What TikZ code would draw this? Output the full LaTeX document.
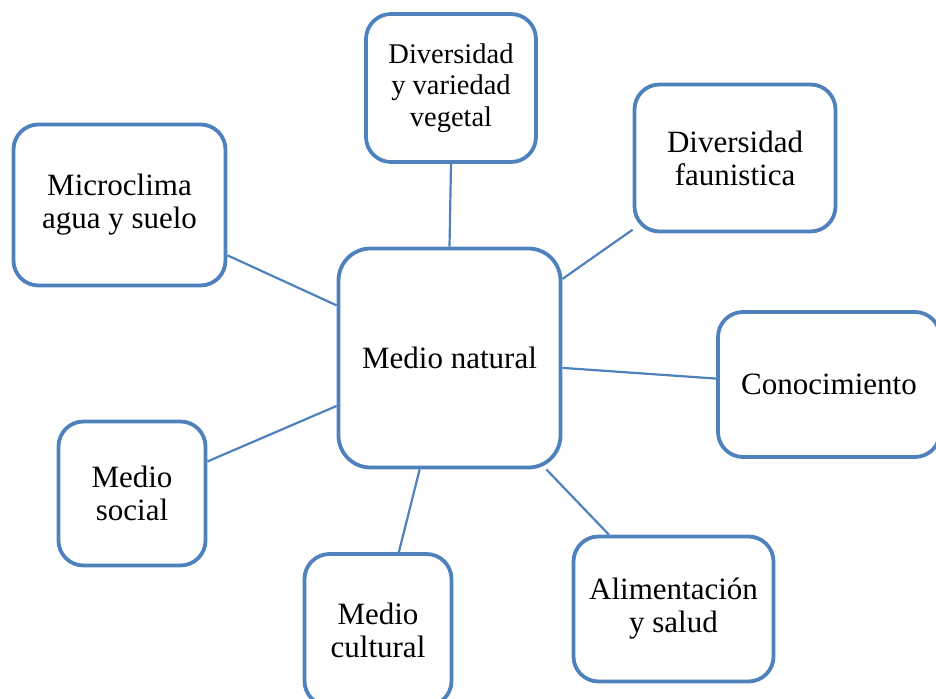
\documentclass[tikz,border=0pt]{standalone}
\usepackage{fontspec}
\setmainfont{Liberation Serif}
\usetikzlibrary{calc}
\definecolor{boxblue}{RGB}{79,129,189}
\begin{document}
\begin{tikzpicture}[x=1pt, y=-1pt,
  idea/.style={draw=boxblue, line width=3.8pt, rounded corners=25pt, fill=white, align=center, inner sep=0pt, font=\fontsize{31}{33}\selectfont},
  link/.style={draw=boxblue, line width=2.2pt}]
\useasboundingbox (0,0) rectangle (936,698);
\node[idea, minimum width=222, minimum height=219, rounded corners=32pt] (natural) at (449.5,358) {Medio natural};
\node[idea, minimum width=170, minimum height=148, font=\fontsize{28.5}{31.5}\selectfont] (vegetal) at (451,88) {Diversidad\\y variedad\\vegetal};
\node[idea, minimum width=201, minimum height=147] (fauna) at (735,158) {Diversidad\\faunistica};
\node[idea, minimum width=212, minimum height=161] (micro) at (119.5,205) {Microclima\\agua y suelo};
\node[idea, minimum width=222, minimum height=145] (conoc) at (829,384.5) {Conocimiento};
\node[idea, minimum width=147, minimum height=144] (social) at (132,493.5) {Medio\\social};
\node[idea, minimum width=147, minimum height=152] (cultural) at (378,630) {Medio\\cultural};
\node[idea, minimum width=200, minimum height=145] (alim) at (673.5,609) {Alimentación\\y salud};
\foreach \a/\b/\n in {90/270/vegetal, 35/215/fauna, 155/-25/micro, -5/177/conoc, 203/23/social, 255/75/cultural, 311.6/131.7/alim} {
  \draw[link] (natural.\a) -- (\n.\b);
}
\end{tikzpicture}
\end{document}
